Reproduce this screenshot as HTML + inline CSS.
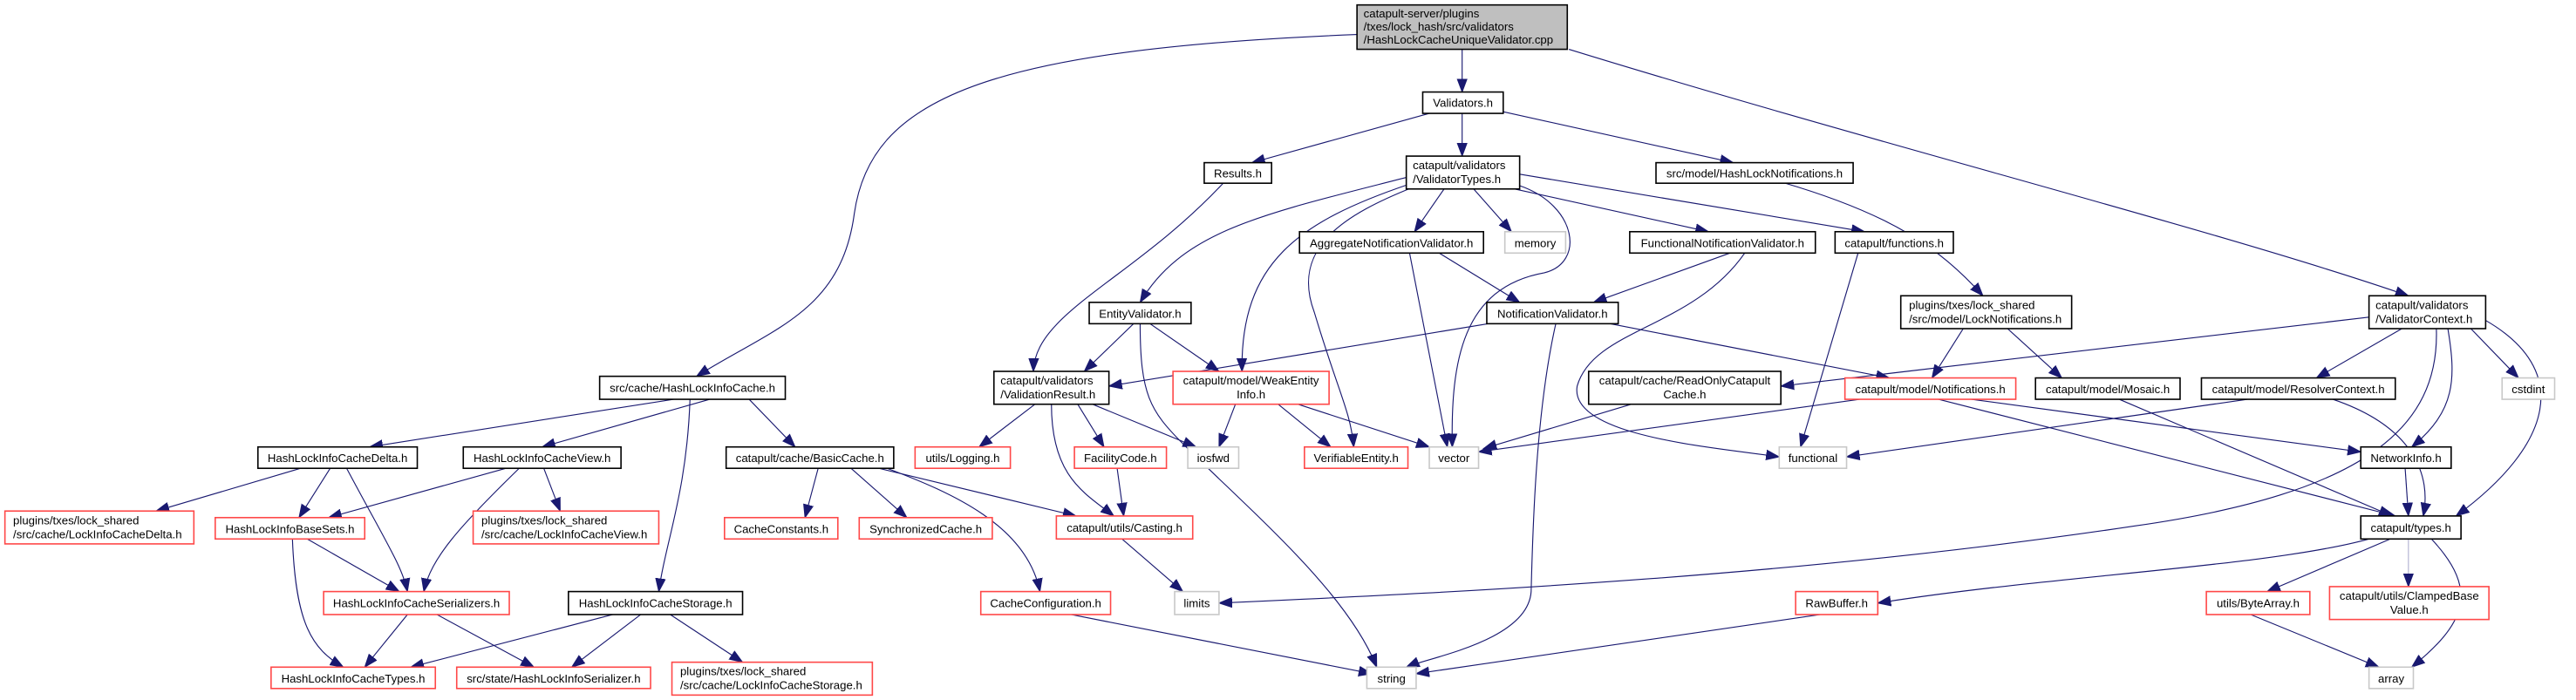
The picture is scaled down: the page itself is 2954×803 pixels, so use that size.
<!DOCTYPE html>
<html><head><meta charset="utf-8"><style>
html,body{margin:0;padding:0;background:#fff;}
svg{display:block;}
text{font-family:"Liberation Sans",Arial,sans-serif;font-size:7px;fill:#000;}
.b{fill:#fff;stroke:#000;stroke-width:0.85;}
.r{fill:#fff;stroke:#ff4848;stroke-width:0.85;}
.g{fill:#fff;stroke:#c8c8c8;stroke-width:0.85;}
.t{fill:#bfbfbf;stroke:#000;stroke-width:0.85;}
path{fill:none;stroke:#191970;stroke-width:0.6;}
</style></head><body>
<svg width="2954" height="803" viewBox="0 0 1568 426" preserveAspectRatio="none" xmlns="http://www.w3.org/2000/svg">
<defs><marker id="a" markerUnits="userSpaceOnUse" markerWidth="9" markerHeight="7" refX="8" refY="3.5" orient="auto"><polygon points="0,0.5 8,3.5 0,6.5" fill="#191970" stroke="#191970" stroke-width="0.5"/></marker></defs>
<g marker-end="url(#a)">
<path d="M890,30 L890,56"/>
<path d="M826,21 C600,30 530,60 520,130 C512,190 470,200 424,229"/>
<path d="M955,30 C1150,90 1350,140 1466,180"/>
<path d="M870,69 L762,99"/>
<path d="M890,69 L890,95"/>
<path d="M915,68 L1055,99"/>
<path d="M745,111 C690,170 630,190 629,226"/>
<path d="M856,108 C770,130 720,140 694,184"/>
<path d="M858,112 C790,135 755,160 756,226"/>
<path d="M860,114 C820,130 785,150 800,190 C815,240 822,250 824,272"/>
<path d="M879,115 L861,141"/>
<path d="M897,115 L920,141"/>
<path d="M925,113 C960,125 965,160 940,166 C890,175 883,220 884,272"/>
<path d="M922,115 L1040,141"/>
<path d="M925,106 L1135,141"/>
<path d="M876,154 L925,184"/>
<path d="M858,154 L881,272"/>
<path d="M1053,154 L970,184"/>
<path d="M1062,154 C1030,200 970,200 960,235 C955,265 1040,272 1083,278"/>
<path d="M1131,154 L1096,272"/>
<path d="M690,197 L660,226"/>
<path d="M700,197 L742,226"/>
<path d="M694,197 C694,240 700,250 720,270 C760,310 820,360 838,406"/>
<path d="M912,196 L675,235"/>
<path d="M980,197 L1150,230"/>
<path d="M947,197 C935,250 933,320 932,360 C930,390 870,400 856,406"/>
<path d="M630,246 L596,272"/>
<path d="M656,246 L672,272"/>
<path d="M665,246 L728,272"/>
<path d="M640,246 C640,290 660,300 678,314"/>
<path d="M752,246 L742,272"/>
<path d="M778,246 L810,272"/>
<path d="M790,246 L870,272"/>
<path d="M993,246 L903,273"/>
<path d="M1132,243 L900,275"/>
<path d="M1200,243 L1437,275"/>
<path d="M1180,243 L1458,314"/>
<path d="M1195,200 L1176,230"/>
<path d="M1222,200 L1255,230"/>
<path d="M1085,111 C1150,130 1180,150 1207,180"/>
<path d="M1290,243 L1456,314"/>
<path d="M1368,243 L1124,278"/>
<path d="M1420,243 C1470,260 1480,290 1475,314"/>
<path d="M1442,193 L1084,235"/>
<path d="M1462,200 L1410,230"/>
<path d="M1504,200 L1533,230"/>
<path d="M1490,200 C1495,230 1495,250 1468,272"/>
<path d="M1513,195 C1565,225 1555,270 1495,314"/>
<path d="M1483,200 C1485,260 1440,300 1300,320 C1100,350 900,360 742,367"/>
<path d="M1464,285 L1466,314"/>
<path d="M1442,328 C1380,345 1250,350 1143,367"/>
<path d="M1455,328 L1380,360"/>
<path d="M1466,328 L1466,357" style="stroke:#b0b0d0"/>
<path d="M1480,328 C1510,360 1500,380 1468,406"/>
<path d="M1108,374 L862,410"/>
<path d="M1370,374 L1448,406"/>
<path d="M652,374 L835,410"/>
<path d="M683,328 L720,360"/>
<path d="M680,285 L684,314"/>
<path d="M498,285 L490,315"/>
<path d="M518,285 L552,315"/>
<path d="M535,285 L655,314"/>
<path d="M540,285 C580,300 625,320 633,360"/>
<path d="M410,243 L225,272"/>
<path d="M432,243 L330,272"/>
<path d="M456,243 L484,272"/>
<path d="M420,243 C418,300 405,330 401,360"/>
<path d="M183,285 L95,311"/>
<path d="M201,285 L182,315"/>
<path d="M211,285 C235,330 245,345 248,360"/>
<path d="M308,285 L200,315"/>
<path d="M316,285 C280,320 262,340 258,360"/>
<path d="M331,285 L341,311"/>
<path d="M187,328 L243,360"/>
<path d="M178,328 C180,380 190,395 209,406"/>
<path d="M248,374 L222,406"/>
<path d="M266,374 L325,406"/>
<path d="M373,374 L250,406"/>
<path d="M390,374 L348,406"/>
<path d="M408,374 L452,403"/>
</g>

<rect class="t" x="826" y="3" width="128" height="27"/>
<text x="830" y="10.5">catapult-server/plugins</text><text x="830" y="18.5">/txes/lock_hash/src/validators</text><text x="830" y="26.5">/HashLockCacheUniqueValidator.cpp</text>

<rect class="b" x="866" y="56" width="49" height="13"/><text x="890.5" y="65" text-anchor="middle">Validators.h</text>
<rect class="b" x="733" y="99" width="41" height="12.5"/><text x="753.5" y="108" text-anchor="middle">Results.h</text>
<rect class="b" x="856" y="95" width="69" height="20"/><text x="860" y="103">catapult/validators</text><text x="860" y="111.5">/ValidatorTypes.h</text>
<rect class="b" x="1008" y="99" width="120" height="12.5"/><text x="1068" y="108" text-anchor="middle">src/model/HashLockNotifications.h</text>
<rect class="b" x="1442" y="180" width="71" height="20"/><text x="1446" y="188">catapult/validators</text><text x="1446" y="196.5">/ValidatorContext.h</text>
<rect class="b" x="365" y="229" width="113" height="14"/><text x="421.5" y="238.5" text-anchor="middle">src/cache/HashLockInfoCache.h</text>
<rect class="b" x="157" y="272" width="97" height="13"/><text x="205.5" y="281.3" text-anchor="middle">HashLockInfoCacheDelta.h</text>
<rect class="b" x="282" y="272" width="96" height="13"/><text x="330" y="281.3" text-anchor="middle">HashLockInfoCacheView.h</text>
<rect class="b" x="442" y="272" width="102" height="13"/><text x="493" y="281.3" text-anchor="middle">catapult/cache/BasicCache.h</text>
<rect class="r" x="3" y="311" width="115" height="20"/><text x="8" y="319">plugins/txes/lock_shared</text><text x="8" y="327.5">/src/cache/LockInfoCacheDelta.h</text>
<rect class="r" x="131" y="315" width="91" height="13"/><text x="176.5" y="324.3" text-anchor="middle">HashLockInfoBaseSets.h</text>
<rect class="r" x="288" y="311" width="113" height="20"/><text x="293" y="319">plugins/txes/lock_shared</text><text x="293" y="327.5">/src/cache/LockInfoCacheView.h</text>
<rect class="r" x="441" y="315" width="69" height="13"/><text x="475.5" y="324.3" text-anchor="middle">CacheConstants.h</text>
<rect class="r" x="523" y="315" width="81" height="13"/><text x="563.5" y="324.3" text-anchor="middle">SynchronizedCache.h</text>
<rect class="r" x="197" y="360" width="113" height="14"/><text x="253.5" y="369.5" text-anchor="middle">HashLockInfoCacheSerializers.h</text>
<rect class="b" x="346" y="360" width="106" height="14"/><text x="399" y="369.5" text-anchor="middle">HashLockInfoCacheStorage.h</text>
<rect class="r" x="165" y="406" width="100" height="13"/><text x="215" y="415.3" text-anchor="middle">HashLockInfoCacheTypes.h</text>
<rect class="r" x="278" y="406" width="118" height="13"/><text x="337" y="415.3" text-anchor="middle">src/state/HashLockInfoSerializer.h</text>
<rect class="r" x="409" y="403" width="122" height="20"/><text x="414" y="411">plugins/txes/lock_shared</text><text x="414" y="419.5">/src/cache/LockInfoCacheStorage.h</text>
<rect class="b" x="791" y="141" width="112" height="13"/><text x="847" y="150.3" text-anchor="middle">AggregateNotificationValidator.h</text>
<rect class="g" x="916" y="141" width="37" height="13"/><text x="934.5" y="150.3" text-anchor="middle">memory</text>
<rect class="b" x="992" y="141" width="113" height="13"/><text x="1048.5" y="150.3" text-anchor="middle">FunctionalNotificationValidator.h</text>
<rect class="b" x="1117" y="141" width="72" height="13"/><text x="1153" y="150.3" text-anchor="middle">catapult/functions.h</text>
<rect class="b" x="663" y="184" width="62" height="13"/><text x="694" y="193.3" text-anchor="middle">EntityValidator.h</text>
<rect class="b" x="905" y="184" width="80" height="13"/><text x="945" y="193.3" text-anchor="middle">NotificationValidator.h</text>
<rect class="b" x="1157" y="180" width="104" height="20"/><text x="1162" y="188">plugins/txes/lock_shared</text><text x="1162" y="196.5">/src/model/LockNotifications.h</text>
<rect class="b" x="605" y="226" width="70" height="20"/><text x="609" y="234">catapult/validators</text><text x="609" y="242.5">/ValidationResult.h</text>
<rect class="r" x="714" y="226" width="95" height="20"/><text x="761.5" y="234" text-anchor="middle">catapult/model/WeakEntity</text><text x="761.5" y="242.5" text-anchor="middle">Info.h</text>
<rect class="b" x="967" y="226" width="117" height="20"/><text x="1025.5" y="234" text-anchor="middle">catapult/cache/ReadOnlyCatapult</text><text x="1025.5" y="242.5" text-anchor="middle">Cache.h</text>
<rect class="r" x="1123" y="230" width="104" height="13"/><text x="1175" y="239.3" text-anchor="middle">catapult/model/Notifications.h</text>
<rect class="b" x="1239" y="230" width="88" height="13"/><text x="1283" y="239.3" text-anchor="middle">catapult/model/Mosaic.h</text>
<rect class="b" x="1340" y="230" width="118" height="13"/><text x="1399" y="239.3" text-anchor="middle">catapult/model/ResolverContext.h</text>
<rect class="g" x="1523" y="230" width="32" height="13"/><text x="1539" y="239.3" text-anchor="middle">cstdint</text>
<rect class="r" x="557" y="272" width="58" height="13"/><text x="586" y="281.3" text-anchor="middle">utils/Logging.h</text>
<rect class="r" x="654" y="272" width="56" height="13"/><text x="682" y="281.3" text-anchor="middle">FacilityCode.h</text>
<rect class="g" x="723" y="272" width="31" height="13"/><text x="738.5" y="281.3" text-anchor="middle">iosfwd</text>
<rect class="r" x="794" y="272" width="63" height="13"/><text x="825.5" y="281.3" text-anchor="middle">VerifiableEntity.h</text>
<rect class="g" x="870" y="272" width="30" height="13"/><text x="885" y="281.3" text-anchor="middle">vector</text>
<rect class="g" x="1083" y="272" width="41" height="13"/><text x="1103.5" y="281.3" text-anchor="middle">functional</text>
<rect class="b" x="1437" y="272" width="55" height="13"/><text x="1464.5" y="281.3" text-anchor="middle">NetworkInfo.h</text>
<rect class="b" x="1437" y="314" width="61" height="14"/><text x="1467.5" y="323.5" text-anchor="middle">catapult/types.h</text>
<rect class="r" x="643" y="314" width="83" height="14"/><text x="684.5" y="323.5" text-anchor="middle">catapult/utils/Casting.h</text>
<rect class="r" x="597" y="360" width="79" height="14"/><text x="636.5" y="369.5" text-anchor="middle">CacheConfiguration.h</text>
<rect class="g" x="715" y="360" width="27" height="14"/><text x="728.5" y="369.5" text-anchor="middle">limits</text>
<rect class="r" x="1093" y="360" width="50" height="14"/><text x="1118" y="369.5" text-anchor="middle">RawBuffer.h</text>
<rect class="r" x="1343" y="360" width="63" height="14"/><text x="1374.5" y="369.5" text-anchor="middle">utils/ByteArray.h</text>
<rect class="r" x="1418" y="357" width="97" height="20"/><text x="1466.5" y="365" text-anchor="middle">catapult/utils/ClampedBase</text><text x="1466.5" y="373.5" text-anchor="middle">Value.h</text>
<rect class="g" x="832" y="406" width="30" height="13"/><text x="847" y="415.3" text-anchor="middle">string</text>
<rect class="g" x="1442" y="406" width="27" height="13"/><text x="1455.5" y="415.3" text-anchor="middle">array</text>
</svg>
</body></html>
